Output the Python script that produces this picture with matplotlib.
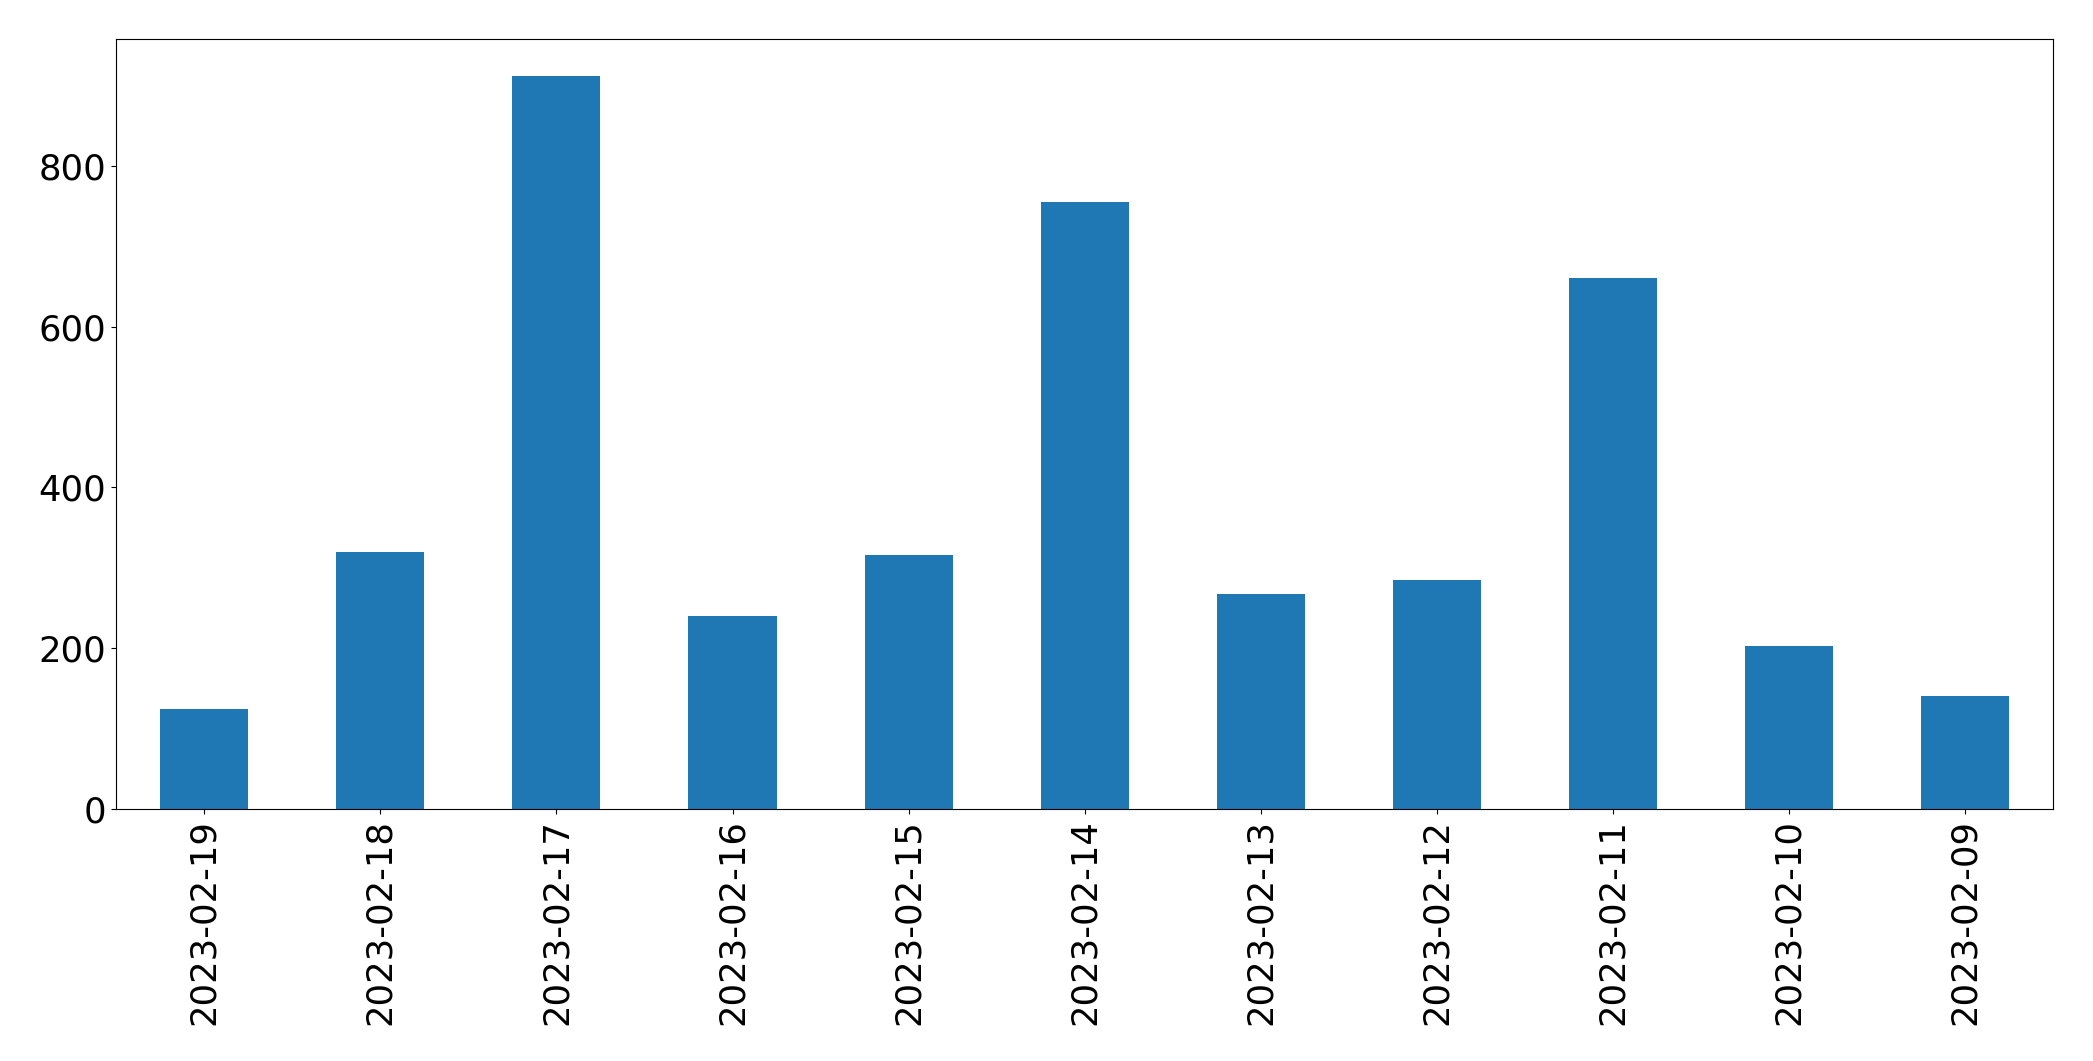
import matplotlib
matplotlib.use("Agg")
import matplotlib.pyplot as plt
import pandas as pd

dates  = ["2023-02-19", "2023-02-18", "2023-02-17", "2023-02-16", "2023-02-15", "2023-02-14",
          "2023-02-13", "2023-02-12", "2023-02-11", "2023-02-10", "2023-02-09"]
counts = [125, 320, 912, 240, 316, 755, 268, 285, 660, 203, 141]

s = pd.Series(counts, index=dates)

fig, ax = plt.subplots(figsize=(20.93, 10.61), dpi=100)
s.plot(kind="bar", ax=ax, color="#1f77b4", fontsize=25.5)
ax.tick_params(axis="both", labelsize=25.5)
plt.subplots_adjust(left=0.0555, right=0.981, top=0.963, bottom=0.2375)
plt.savefig("out.png", dpi=100)
